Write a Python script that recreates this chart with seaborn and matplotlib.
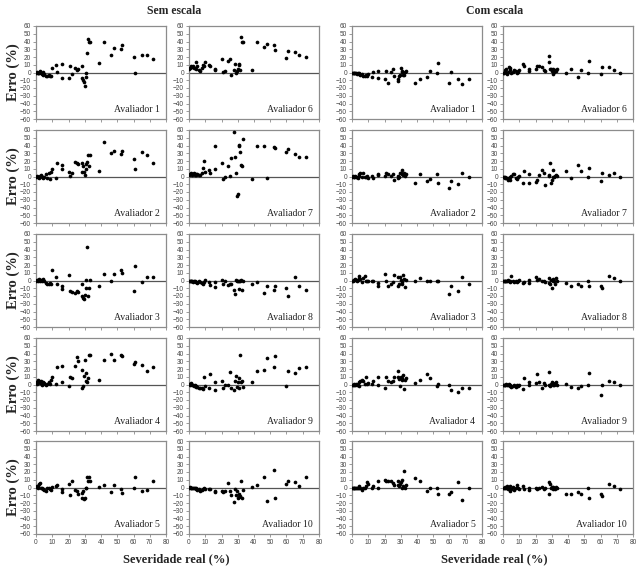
import matplotlib
matplotlib.use("Agg")
import matplotlib.pyplot as plt
import seaborn as sns
import pandas as pd

# True severity (%) of the evaluated leaves (common to all raters)
SEV_LOW = [0.2, 0.5, 1, 1.5, 2, 2.5, 3, 3.5, 4, 4.5, 5, 6, 7, 8, 8.5, 9, 10]
SEV_MID = [12, 13, 16, 16, 20, 21, 22, 24, 25, 26]
SEV_G30 = [28, 28.5, 29, 29.5, 30, 30.5, 31, 31.5, 32, 32.5, 33]
SEV_HIGH = [39, 42, 46, 48, 52, 53, 60, 61, 65, 68, 72]
SEV = SEV_LOW + SEV_MID + SEV_G30 + SEV_HIGH

# Errors (%) - "Sem escala"
SEM_1 = [0,1,0,-1,-1,2,0,-2,-3,1,-2,-4,-5,-3,-4,-5,6] + [10,1,11,-7,-7,9,-2,6,3,5] + [8,-7,-10,-12,-17,-6,-1,25,43,40,40] + [12,40,22,31,30,35,20,-1,22,23,18]
SEM_2 = [0,1,-1,0,-2,1,2,-1,0,-2,-1,3,-2,4,-3,6,10] + [-2,18,15,10,6,1,5,19,17,16] + [6,17,13,6,2,16,10,19,28,14,28] + [7,44,30,33,29,33,22,10,31,28,18]
SEM_3 = [0,1,0,1,2,0,1,-1,2,1,0,-3,-4,-5,-3,-4,13] + [5,-4,-7,-11,7,-13,-15,-16,-14,-15] + [-5,-20,-22,-24,-19,-10,1,43,-20,-10,1] + [-7,8,-1,9,13,10,-14,19,-2,4,4]
SEM_4 = [3,1,3,6,5,2,4,-1,1,3,2,0,1,3,1,6,10] + [1,22,24,3,-2,10,9,24,35,30] + [19,-4,-2,11,31,15,4,3,9,38,38] + [6,32,39,32,38,37,26,29,25,17,23]
SEM_5 = [1,2,2,0,5,6,-1,-1,-2,-2,-3,-4,-1,0,-2,-3,1] + [2,3,-2,-6,5,-10,8,-3,-4,-9] + [-7,-14,-4,-15,-13,-1,0,13,8,13,8] + [1,3,-6,3,-2,-7,0,14,-5,-3,8]
SEM_6 = [5,6,7,8,7,8,6,6,14,5,8,3,2,6,10,8,13] + [10,8,3,5,17,1,2,15,17,-3] + [3,11,-1,2,4,11,10,3,46,40,40] + [3,39,33,37,36,29,19,28,26,22,20]
SEM_7 = [2,3,3,4,2,3,4,2,3,2,3,2,2,4,11,20,6] + [8,5,10,40,18,-3,-1,14,1,24] + [57,25,5,-25,-23,41,40,31,15,13,49] + [-3,40,39,-2,38,37,32,35,29,25,25]
SEM_8 = [0,0,-1,0,-1,-2,-1,-1,-2,-2,-3,-1,-2,-3,-4,-2,1] + [-2,-6,-9,-2,1,-4,0,-6,-5,-4] + [-12,-18,1,0,-1,-11,0,-1,1,-12,-1] + [-4,-2,-16,-7,-12,-7,-10,-20,5,-7,-12]
SEM_9 = [1,0,2,1,-1,0,-2,-1,-3,-2,-3,-4,-4,-5,-6,10,-2] + [-4,14,-7,3,4,-5,-1,0,16,-5] + [-7,5,11,-3,3,-5,8,38,3,5,-3] + [3,18,19,34,23,37,-2,17,15,21,23]
SEM_10 = [0,1,0,-1,-1,-1,-1,-1,-1,-2,-3,-2,-4,-3,-2,-1,-2] + [-2,-2,-4,-6,-4,-6,-5,6,-5,-10] + [-19,-2,-10,-5,-14,-9,-12,-11,8,-13,-3] + [1,3,14,-18,23,-13,5,9,7,2,13]

# Errors (%) - "Com escala"
COM_1 = [0,0,-1,0,-1,-1,-2,-1,-2,0,-3,-2,-4,-5,-3,-4,-2] + [-6,1,2,-7,-8,2,-14,1,5,-5] + [-8,-11,-4,-3,6,1,2,-3,-3,1,2] + [-14,-9,-6,2,-1,12,-13,1,-9,-15,-8]
COM_2 = [0,1,0,0,1,0,-1,-2,1,3,5,-1,5,-1,0,1,-2] + [1,-2,3,2,1,5,3,1,3,-5] + [-2,1,0,4,5,8,3,2,5,1,3] + [-8,3,-6,-3,3,-8,-15,-6,-10,4,0]
COM_3 = [0,0,1,1,2,1,0,1,3,6,2,-2,3,6,0,-1,-1] + [0,0,-3,-7,8,-1,-7,-4,-2,7] + [4,-7,-5,4,1,-2,-4,7,2,-8,1] + [0,3,0,-1,0,-1,-17,-7,-13,4,-4]
COM_4 = [0,0,0,1,0,1,0,1,-2,3,5,6,4,1,10,1,2] + [1,5,10,0,-5,10,5,3,5,10] + [17,10,7,-2,10,6,8,12,-6,6,8] + [2,6,14,8,-2,1,0,-7,-10,-4,-4]
COM_5 = [0,0,0,-1,0,0,-1,0,2,0,-1,-3,-1,0,2,7,4] + [-1,2,8,0,10,9,8,9,6,3] + [3,8,2,4,7,10,0,2,21,0,3] + [12,9,-4,0,0,-8,-9,-6,7,-16,0]
COM_6 = [0,0,1,3,4,-2,1,7,6,3,0,1,3,2,-1,1,3] + [11,9,4,2,4,8,8,7,3,2] + [21,13,4,5,2,5,-2,1,3,2,4] + [0,4,-6,3,0,15,-2,7,7,3,0]
COM_7 = [0,-1,-1,-2,-2,-2,-4,-2,-4,-1,1,3,3,-2,-3,-1,1] + [-8,7,-8,3,-7,-5,2,8,4,-11] + [1,2,17,-9,-4,-1,8,-1,1,2,1] + [7,-2,15,7,0,11,-6,4,2,4,0]
COM_8 = [0,0,0,-1,-1,0,1,-1,-1,-2,6,-1,-2,-1,-2,0,1] + [-3,-2,1,-3,4,1,2,-1,0,-2] + [3,-3,-5,1,-10,0,2,0,-4,3,0] + [-3,-7,-5,-7,0,-7,-7,-10,6,3,0]
COM_9 = [0,0,-1,0,1,0,-1,1,-1,-2,-3,-2,-1,-3,0,-2,0] + [-6,8,3,0,2,13,3,-4,2,0] + [0,16,-2,1,3,0,2,-1,1,3,0] + [1,-3,-5,-2,0,15,-13,-1,5,3,0]
COM_10 = [0,0,-1,1,-1,2,-2,0,-4,2,-2,1,-3,-1,3,0,-2] + [2,-2,0,-3,-1,-2,0,1,-2,0] + [-9,7,4,-1,1,-2,1,0,-2,1,0] + [-9,-8,-6,-8,-1,-14,-9,-11,5,2,-2]

SEM = [SEM_1, SEM_2, SEM_3, SEM_4, SEM_5, SEM_6, SEM_7, SEM_8, SEM_9, SEM_10]
COM = [COM_1, COM_2, COM_3, COM_4, COM_5, COM_6, COM_7, COM_8, COM_9, COM_10]

GROUP_TITLES = ["Sem escala", "Com escala"]
Y_TICKS = list(range(-60, 61, 10))
X_TICKS = list(range(0, 81, 10))
Y_LABEL = "Erro (%)"
X_LABEL = "Severidade real (%)"

sns.set_style("white")
plt.rcParams["font.family"] = ["Liberation Sans", "DejaVu Sans"]

W, H = 636, 571
fig = plt.figure(figsize=(W / 100, H / 100), dpi=100)

col_left = [36, 189, 352, 503]
ax_w = 130
row_top = [26, 130, 234, 338, 441]
ax_h = 93
FRAME = "#8c8c8c"
SERIF = ["Liberation Serif", "DejaVu Serif"]

for g, data in enumerate([SEM, COM]):
    for k in range(10):
        col = g * 2 + (k // 5)
        row = k % 5
        l = col_left[col] / W
        b = 1 - (row_top[row] + ax_h) / H
        ax = fig.add_axes([l, b, ax_w / W, ax_h / H])
        df = pd.DataFrame({"sev": SEV, "err": data[k]})
        sns.scatterplot(data=df, x="sev", y="err", ax=ax, color="black",
                        s=7, linewidth=0, legend=False, zorder=3)
        ax.axhline(0, color="#555555", lw=0.9, zorder=2)
        ax.set_xlim(0, 80)
        ax.set_ylim(-60, 60)
        ax.set_yticks(Y_TICKS)
        ax.set_xticks(X_TICKS)
        ax.set_xlabel("")
        ax.set_ylabel("")
        for sp in ax.spines.values():
            sp.set_color(FRAME)
            sp.set_linewidth(0.9)
        ax.tick_params(axis="both", length=2, width=0.6, color=FRAME,
                       labelsize=4.7, labelcolor="#444444", pad=1.5, direction="out")
        ax.tick_params(axis="x", bottom=True)
        ax.tick_params(axis="y", left=True)
        if row != 4:
            ax.set_xticklabels([])
        ax.text(76, -48, f"Avaliador {k + 1}", ha="right", va="center",
                fontsize=7, family=SERIF, color="#222222")
        if col == 0:
            cy = 1 - (row_top[row] + ax_h / 2) / H
            fig.text(13 / W, cy, Y_LABEL, rotation=90, ha="center", va="center",
                     fontsize=10.5, fontweight="bold", family=SERIF)

# group titles and x labels
fig.text(174 / W, 1 - 11 / H, GROUP_TITLES[0], ha="center", va="center",
         fontsize=8.5, fontweight="bold", family=SERIF)
fig.text(495 / W, 1 - 11 / H, GROUP_TITLES[1], ha="center", va="center",
         fontsize=8.5, fontweight="bold", family=SERIF)
fig.text(176 / W, 1 - 559 / H, X_LABEL, ha="center", va="center",
         fontsize=9, fontweight="bold", family=SERIF)
fig.text(494 / W, 1 - 559 / H, X_LABEL, ha="center", va="center",
         fontsize=9, fontweight="bold", family=SERIF)

fig.savefig("out.png", dpi=100, facecolor="white")
